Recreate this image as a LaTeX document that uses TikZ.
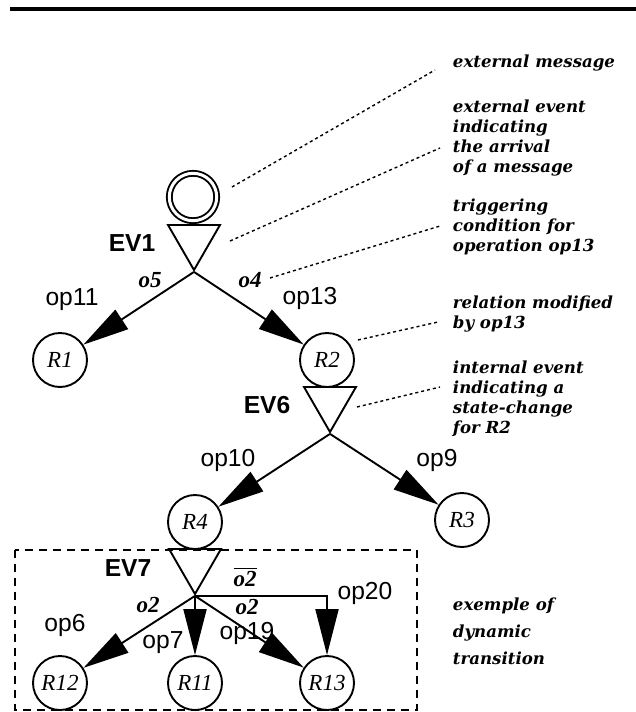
\documentclass[tikz,border=0pt]{standalone}
\usepackage{fontspec}
\setsansfont{Liberation Sans}
\newfontfamily\relfont{Liberation Serif}
\newfontfamily\notefont{DejaVu Serif}
\usetikzlibrary{arrows.meta, positioning, calc, shapes.geometric}

\begin{document}
\begin{tikzpicture}[x=0.5pt, y=-0.5pt, line width=0.95pt,
    rel/.style={circle, draw, minimum size=27pt, inner sep=0pt, font=\relfont\itshape\fontsize{11.5}{13}\selectfont},
    evt/.style={regular polygon, regular polygon sides=3, shape border rotate=180, draw, minimum size=30pt, inner sep=0pt},
    arr/.style={-{Triangle[length=23pt, width=11.5pt]}},
    oplbl/.style={font=\sffamily\fontsize{12.3}{14}\selectfont},
    evlbl/.style={font=\sffamily\bfseries\fontsize{12.3}{14}\selectfont},
    cond/.style={font=\relfont\bfseries\itshape\fontsize{11.5}{13}\selectfont},
    note/.style={align=left, inner sep=0pt, font=\notefont\bfseries\itshape\fontsize{8.3}{10}\selectfont},
    pointer/.style={line width=0.7pt, dash pattern=on 1.5pt off 1.5pt}]
    \useasboundingbox (0,0) rectangle (636,712);
    \draw[line width=1.6pt] (10,9) -- (636,9);

    % external event EV1
    \node[circle, draw, double, double distance=1.5pt, minimum size=23.7pt, inner sep=0pt] (msg) at (193,197) {};
    \node[evt] (ev1) at (194,240) {};
    \node[evlbl] (lev1) at (132,243) {EV1};
    \node[rel] (r1) at (60,360) {R1};
    \node[rel] (r2) at (327,360) {R2};
    \draw[arr] (ev1.corner 1) -- (r1);
    \draw[arr] (ev1.corner 1) -- (r2);
    \node[cond] (lo5) at (150,280) {o5};
    \node[cond] (lo4) at (250,280) {o4};
    \node[oplbl] (lop11) at (72,300) {op11};
    \node[oplbl] (lop13) at (310,298) {op13};

    % internal event EV6
    \node[evt] (ev6) at (330,402) {};
    \node[evlbl] (lev6) at (267,405) {EV6};
    \node[rel] (r4) at (195,522) {R4};
    \node[rel] (r3) at (462,520) {R3};
    \draw[arr] (ev6.corner 1) -- (r4);
    \draw[arr] (ev6.corner 1) -- (r3);
    \node[oplbl] (lop10) at (228,460) {op10};
    \node[oplbl] (lop9) at (437,460) {op9};

    % dynamic transition EV7
    \draw[dash pattern=on 4pt off 3pt] (15,550) rectangle (417,710);
    \node[evt] (ev7) at (195,564) {};
    \node[evlbl] (lev7) at (128,568) {EV7};
    \node[rel] (r12) at (60,683) {R12};
    \node[rel] (r11) at (195,683) {R11};
    \node[rel] (r13) at (327,683) {R13};
    \draw[arr] (ev7.corner 1) -- (r12);
    \draw[arr] (ev7.corner 1) -- (r11);
    \draw[arr] (ev7.corner 1) -- (r13);
    \draw[arr] (ev7.corner 1) -- (ev7.corner 1 -| r13) -- (r13);
    \node[cond] (lo2a) at (148,605) {o2};
    \node[cond] (lo2b) at (245,577) {$\overline{\hbox{o2}}$};
    \node[cond] (lo2c) at (247,607) {o2};
    \node[oplbl] (lop6) at (65,625) {op6};
    \node[oplbl] (lop7) at (163,643) {op7};
    \node[oplbl] (lop19) at (247,633) {op19};
    \node[oplbl] (lop20) at (365,593) {op20};

    % comments on the right
    \node[note, anchor=west] (n1) at (452,63) {external message};
    \node[note, anchor=north west] (n2) at (452,99) {external event\\indicating\\the arrival\\of a message};
    \node[note, anchor=north west] (n3) at (452,198) {triggering\\condition for\\operation op13};
    \node[note, anchor=north west] (n4) at (452,295) {relation modified\\by op13};
    \node[note, anchor=north west] (n5) at (452,360) {internal event\\indicating a\\state-change\\for R2};
    \node[note, anchor=north west, font=\notefont\bfseries\itshape\fontsize{8.3}{13.5}\selectfont] (n6) at (452,597) {exemple of\\dynamic\\transition};

    \coordinate (p1) at (232,187); \coordinate (q1) at (435,70);
    \coordinate (p2) at (230,241); \coordinate (q2) at (440,148);
    \coordinate (p3) at (270,278); \coordinate (q3) at (440,226);
    \coordinate (p4) at (358,340); \coordinate (q4) at (438,322);
    \coordinate (p5) at (357,407); \coordinate (q5) at (440,387);
    \foreach \i in {1,...,5}
        \draw[pointer] (p\i) -- (q\i);
\end{tikzpicture}
\end{document}
